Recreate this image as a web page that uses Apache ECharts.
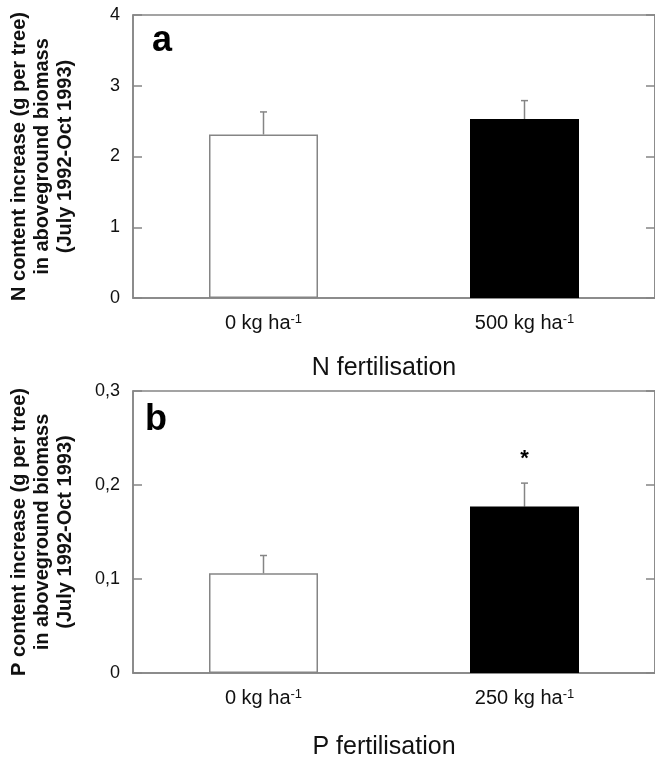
<!DOCTYPE html>
<html>
<head>
<meta charset="utf-8">
<script src="https://cdn.jsdelivr.net/npm/echarts@6/dist/echarts.min.js"></script>
<style>
  html, body { margin: 0; padding: 0; background: #fff; }
  #chart { width: 655px; height: 761px; }
</style>
</head>
<body>
<div id="chart"></div>
<script>
// panel a: N fertilisation
var nCategories = ['0 kg ha', '500 kg ha'];
var nMeans = [2.31, 2.53];
var nErrors = [0.32, 0.26];
var nSignif = ['', ''];
var nAxisMax = 4;
var nAxisStep = 1;

// panel b: P fertilisation
var pCategories = ['0 kg ha', '250 kg ha'];
var pMeans = [0.106, 0.177];
var pErrors = [0.019, 0.025];
var pSignif = ['', '*'];
var pAxisMax = 0.3;
var pAxisStep = 0.1;

var unitExponent = '-1';
var barColors = ['#ffffff', '#000000'];

var FONT = "'Liberation Sans', Arial, sans-serif";
var GREY = '#858585';

function errorBars(signif) {
    return function(params, api) {
        var base = api.coord([api.value(0), api.value(1)]);
        var tip = api.coord([api.value(0), api.value(1) + api.value(2)]);
        var st = { stroke: GREY, lineWidth: 1.5 };
        var children = [
            { type: 'line', shape: { x1: base[0], y1: base[1], x2: tip[0], y2: tip[1] }, style: st },
            { type: 'line', shape: { x1: tip[0] - 3.5, y1: tip[1], x2: tip[0] + 3.5, y2: tip[1] }, style: st }
        ];
        if (signif[params.dataIndex]) {
            children.push({
                type: 'text',
                style: {
                    x: tip[0], y: tip[1] - 24, text: signif[params.dataIndex],
                    font: 'bold 22px ' + FONT, fill: '#000',
                    textAlign: 'center', textVerticalAlign: 'middle'
                }
            });
        }
        return { type: 'group', children: children };
    };
}

function catAxis(idx, cats, name, gap) {
    return {
        type: 'category',
        gridIndex: idx,
        data: cats,
        name: name,
        nameLocation: 'middle',
        nameGap: gap,
        nameTextStyle: { fontFamily: FONT, fontSize: 25, color: '#111', padding: [0, 20, 0, 0] },
        axisLine: { lineStyle: { color: GREY, width: 1.5 } },
        axisTick: { show: false },
        axisLabel: {
            margin: 15,
            formatter: function(v) { return '{m|' + v + '}{s|' + unitExponent + '}'; },
            rich: {
                m: { fontFamily: FONT, fontSize: 20, color: '#111', lineHeight: 21 },
                s: { fontFamily: FONT, fontSize: 13, color: '#111', verticalAlign: 'top', lineHeight: 21 }
            }
        }
    };
}

function valAxis(idx, max, step, name, fmt) {
    return {
        type: 'value',
        gridIndex: idx,
        min: 0,
        max: max,
        interval: step,
        name: name,
        nameLocation: 'middle',
        nameRotate: 90,
        nameGap: 56,
        nameTextStyle: { fontFamily: FONT, fontSize: 20, fontWeight: 'bold', color: '#111', lineHeight: 23 },
        axisLine: { show: true, lineStyle: { color: GREY, width: 1.5 } },
        axisTick: { show: true, inside: true, length: 9, lineStyle: { color: GREY, width: 1.5 } },
        splitLine: { show: false },
        axisLabel: { fontFamily: FONT, fontSize: 18, color: '#111', margin: 13, formatter: fmt }
    };
}

function rightAxis(idx, max, step) {
    return {
        type: 'value',
        gridIndex: idx,
        position: 'right',
        min: 0,
        max: max,
        interval: step,
        axisLine: { show: true, lineStyle: { color: GREY, width: 1.5 } },
        axisTick: { show: true, inside: true, length: 9, lineStyle: { color: GREY, width: 1.5 } },
        axisLabel: { show: false },
        splitLine: { show: false }
    };
}

function barData(means) {
    return means.map(function(v, i) {
        return {
            value: v,
            itemStyle: { color: barColors[i], borderColor: i === 0 ? GREY : '#000', borderWidth: 1.5 }
        };
    });
}

function errData(means, errors) {
    return means.map(function(v, i) { return [i, v, errors[i]]; });
}

var chart = echarts.init(document.getElementById('chart'));
chart.setOption({
    animation: false,
    backgroundColor: '#fff',
    title: [
        { text: 'a', left: 147, top: 18, textStyle: { fontFamily: FONT, fontSize: 36, fontWeight: 'bold', color: '#000' } },
        { text: 'b', left: 140, top: 397, textStyle: { fontFamily: FONT, fontSize: 36, fontWeight: 'bold', color: '#000' } }
    ],
    grid: [
        { left: 128, top: 15, width: 530, height: 283, show: true, borderColor: GREY, borderWidth: 1.5 },
        { left: 130, top: 391, width: 531, height: 283, show: true, borderColor: GREY, borderWidth: 1.5 }
    ],
    xAxis: [
        catAxis(0, nCategories, 'N fertilisation', 58),
        catAxis(1, pCategories, 'P fertilisation', 62)
    ],
    yAxis: [
        valAxis(0, nAxisMax, nAxisStep,
            'N content increase (g per tree)\nin aboveground biomass\n(July 1992-Oct 1993)',
            function(v) { return String(v); }),
        valAxis(1, pAxisMax, pAxisStep,
            'P content increase (g per tree)\nin aboveground biomass\n(July 1992-Oct 1993)',
            function(v) { return v === 0 ? '0' : v.toFixed(1).replace('.', ','); }),
        rightAxis(0, nAxisMax, nAxisStep),
        rightAxis(1, pAxisMax, pAxisStep)
    ],
    series: [
        { type: 'bar', xAxisIndex: 0, yAxisIndex: 0, barWidth: 109, data: barData(nMeans) },
        { type: 'custom', xAxisIndex: 0, yAxisIndex: 0, renderItem: errorBars(nSignif), data: errData(nMeans, nErrors) },
        { type: 'bar', xAxisIndex: 1, yAxisIndex: 1, barWidth: 109, data: barData(pMeans) },
        { type: 'custom', xAxisIndex: 1, yAxisIndex: 1, renderItem: errorBars(pSignif), data: errData(pMeans, pErrors) }
    ]
});
</script>
</body>
</html>
